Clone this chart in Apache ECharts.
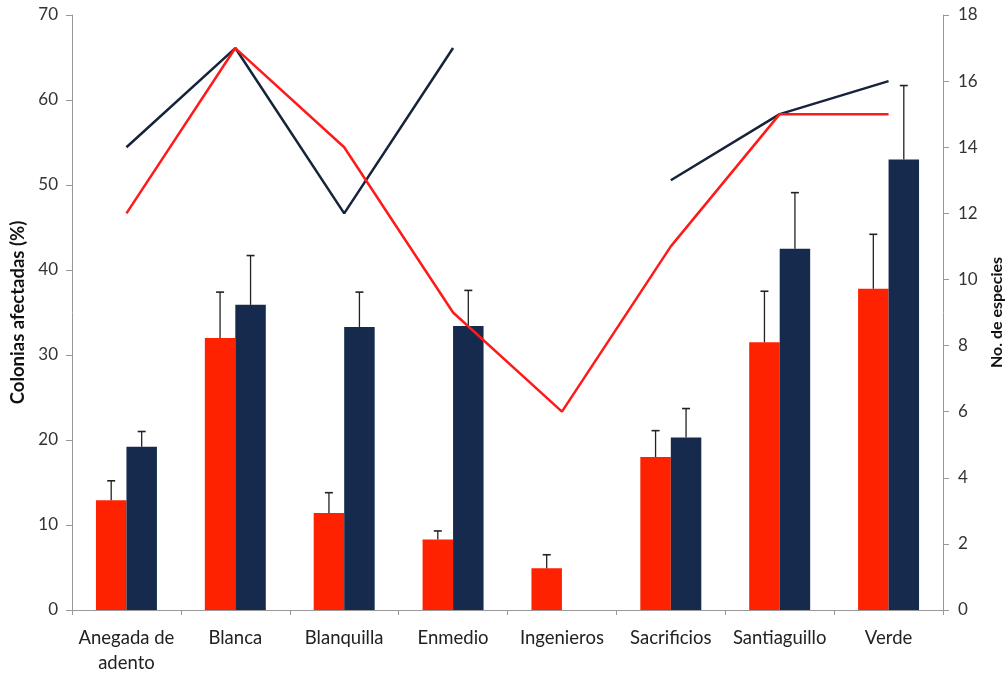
<!DOCTYPE html>
<html>
<head>
<meta charset="utf-8">
<script src="https://cdn.jsdelivr.net/npm/echarts@6/dist/echarts.min.js"></script>
<style>html,body{margin:0;padding:0;background:#fff;}#c{width:1005px;height:675px;}</style>
</head>
<body>
<div id="c"></div>
<script>
var categories = ['Anegada de\nadento','Blanca','Blanquilla','Enmedio','Ingenieros','Sacrificios','Santiaguillo','Verde'];
var redBars = [12.9, 32.0, 11.4, 8.3, 4.9, 18.0, 31.5, 37.8];
var redErrTop = [15.2, 37.4, 13.8, 9.3, 6.5, 21.1, 37.5, 44.2];
var navyBars = [19.2, 35.9, 33.3, 33.4, null, 20.3, 42.5, 53.0];
var navyErrTop = [21.0, 41.7, 37.4, 37.6, null, 23.7, 49.1, 61.7];
var redSpecies = [12, 17, 14, 9, 6, 11, 15, 15];
var navySpecies = [14, 17, 12, 17, null, 13, 15, 16];
var leftTicks = {min: 0, max: 70, interval: 10};
var rightTicks = {min: 0, max: 18, interval: 2};

var RED = '#ff2200', NAVY = '#152a4c';
var CAT_GAP = 0.44;
var FONT = 'Lato';

function errData(bars, tops) {
  var out = [];
  for (var i = 0; i < bars.length; i++) {
    if (bars[i] != null) out.push([i, bars[i], tops[i]]);
  }
  return out;
}

function errRender(side) {
  return function (params, api) {
    var idx = api.value(0);
    var base = api.coord([idx, api.value(1)]);
    var top = api.coord([idx, api.value(2)]);
    var band = api.size([1, 0])[0];
    var bw = band * (1 - CAT_GAP) / 2;
    var x = base[0] + side * bw / 2;
    var cap = 4;
    return {
      type: 'group',
      children: [
        {type: 'line', shape: {x1: x, y1: base[1], x2: x, y2: top[1]}, style: {stroke: '#222', lineWidth: 1.3}},
        {type: 'line', shape: {x1: x - cap, y1: top[1], x2: x + cap, y2: top[1]}, style: {stroke: '#222', lineWidth: 1.6}}
      ]
    };
  };
}

var chart = echarts.init(document.getElementById('c'), null, {renderer: 'canvas'});
chart.setOption({
  animation: false,
  backgroundColor: '#fff',
  textStyle: {fontFamily: FONT},
  grid: {left: 72, right: 62, top: 15, bottom: 65, containLabel: false, outerBoundsMode: 'none'},
  xAxis: {
    type: 'category',
    data: categories,
    boundaryGap: true,
    axisLine: {lineStyle: {color: '#999', width: 1}},
    axisTick: {show: true, length: 5, lineStyle: {color: '#999'}},
    axisLabel: {color: '#222', fontSize: 18.5, fontFamily: FONT, margin: 16, lineHeight: 25, interval: 0}
  },
  yAxis: [
    {
      type: 'value', position: 'left',
      min: leftTicks.min, max: leftTicks.max, interval: leftTicks.interval,
      name: 'Colonias afectadas (%)', nameLocation: 'middle', nameRotate: 90, nameGap: 43,
      nameTextStyle: {color: '#111', fontSize: 18.5, fontWeight: 'bold', fontFamily: FONT},
      axisLine: {show: true, lineStyle: {color: '#999'}},
      axisTick: {show: true, length: 6, lineStyle: {color: '#999'}},
      axisLabel: {color: '#333', fontSize: 17, margin: 14, fontFamily: FONT},
      splitLine: {show: false}
    },
    {
      type: 'value', position: 'right',
      min: rightTicks.min, max: rightTicks.max, interval: rightTicks.interval,
      name: 'No. de especies', nameLocation: 'middle', nameRotate: 90, nameGap: 44,
      nameTextStyle: {color: '#111', fontSize: 16, fontWeight: 'bold', fontFamily: FONT},
      axisLine: {show: true, lineStyle: {color: '#999'}},
      axisTick: {show: true, length: 6, lineStyle: {color: '#999'}},
      axisLabel: {color: '#333', fontSize: 17, margin: 15, fontFamily: FONT},
      splitLine: {show: false}
    }
  ],
  series: [
    {type: 'bar', name: 'rojo', data: redBars, yAxisIndex: 0, barGap: '0%', barCategoryGap: (CAT_GAP * 100) + '%',
      itemStyle: {color: RED}, z: 2},
    {type: 'bar', name: 'azul', data: navyBars, yAxisIndex: 0, barGap: '0%', barCategoryGap: (CAT_GAP * 100) + '%',
      itemStyle: {color: NAVY}, z: 2},
    {type: 'custom', data: errData(redBars, redErrTop), yAxisIndex: 0, renderItem: errRender(-1), z: 3,
      encode: {x: 0, y: [1, 2]}},
    {type: 'custom', data: errData(navyBars, navyErrTop), yAxisIndex: 0, renderItem: errRender(1), z: 3,
      encode: {x: 0, y: [1, 2]}},
    {type: 'line', data: navySpecies, yAxisIndex: 1, showSymbol: false, symbol: 'none', connectNulls: false,
      lineStyle: {color: '#17233a', width: 2.5}, z: 5},
    {type: 'line', data: redSpecies, yAxisIndex: 1, showSymbol: false, symbol: 'none',
      lineStyle: {color: '#ff1a1a', width: 2.5}, z: 6}
  ]
});
</script>
</body>
</html>
